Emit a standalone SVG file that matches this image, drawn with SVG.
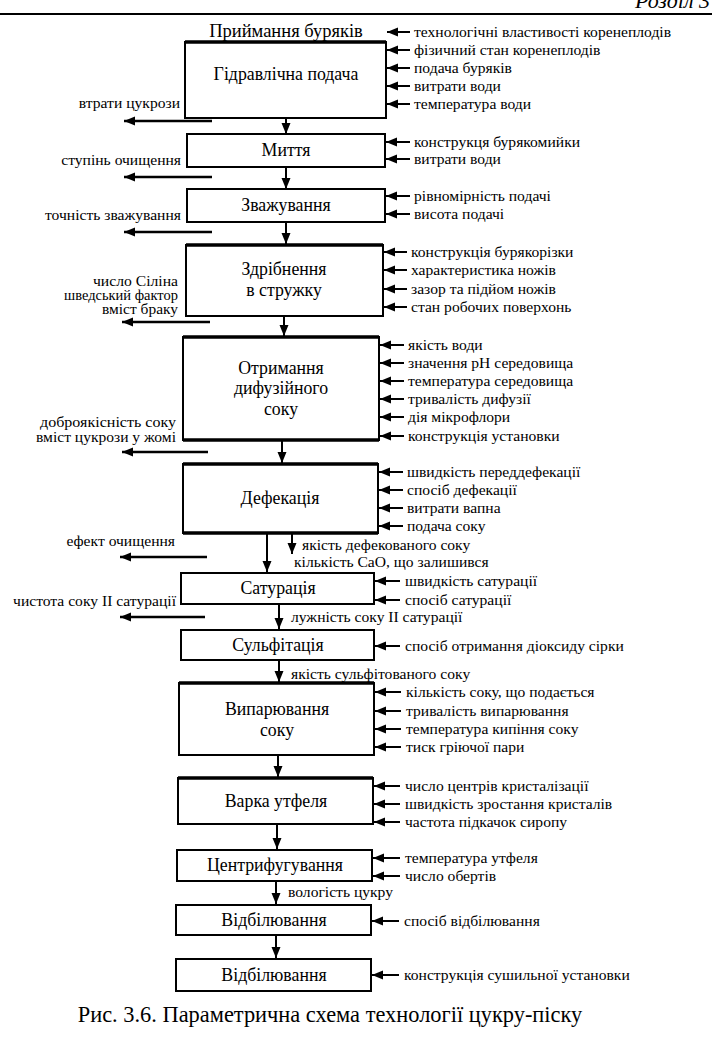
<svg xmlns="http://www.w3.org/2000/svg" width="722" height="1038" viewBox="0 0 722 1038" font-family="'Liberation Serif', 'Times New Roman', Tinos, 'DejaVu Serif', serif">
<defs>
<marker id="ah" markerUnits="userSpaceOnUse" markerWidth="12" markerHeight="10" refX="11" refY="4.5" orient="auto">
<path d="M0,0 L11,4.5 L0,9 z" fill="#000"/>
</marker>
<style>
text{font-family:'Liberation Serif','Times New Roman',Tinos,'DejaVu Serif',serif;fill:#000}
.box{fill:#fff;stroke:#000;stroke-width:2}
.thick{stroke:#000;stroke-width:3.5}
.t{font-size:17.8px}
.l{font-size:15.6px}
.s{font-size:14px}
.r{text-anchor:end}
.c{text-anchor:middle}
.a{stroke:#000;stroke-width:2;fill:none;marker-end:url(#ah)}
.o{stroke:#000;stroke-width:2.5;fill:none;marker-end:url(#ah)}
</style>
</defs>
<rect width="722" height="1038" fill="#fff"/>
<g id="header">
<line x1="0" y1="14" x2="712" y2="14" stroke="#000" stroke-width="2"/>
<text x="710" y="8" class="t r" style="font-style:italic;font-size:22px">Розділ 3</text>
</g>
<g id="n1">
<text x="286" y="37" class="t c" style="font-size:18.5px">Приймання буряків</text>
<rect class="box" x="185" y="42" width="201" height="76"/>
<line class="thick" x1="185" y1="42" x2="386" y2="42"/>
<text x="286" y="80" class="t c">Гідравлічна подача</text>
<text x="414" y="37" class="l">технологічні властивості коренеплодів</text>
<text x="414" y="55" class="l">фізичний стан коренеплодів</text>
<text x="414" y="73" class="l">подача буряків</text>
<text x="414" y="91" class="l">витрати води</text>
<text x="414" y="109" class="l">температура води</text>
<text x="180" y="108" class="l r">втрати цукрози</text>
</g>
<g id="n2">
<rect class="box" x="187" y="134" width="198" height="33"/>
<text x="286" y="156" class="t c">Миття</text>
<text x="414" y="147" class="l">конструкця бурякомийки</text>
<text x="414" y="164" class="l">витрати води</text>
<text x="181" y="165" class="l r">ступінь очищення</text>
</g>
<g id="n3">
<rect class="box" x="187" y="189" width="198" height="33"/>
<text x="286" y="211" class="t c">Зважування</text>
<text x="414" y="201" class="l">рівномірність подачі</text>
<text x="414" y="219" class="l">висота подачі</text>
<text x="181" y="220" class="l r">точність зважування</text>
</g>
<g id="n4">
<rect class="box" x="186" y="245" width="197" height="71"/>
<line class="thick" x1="186" y1="245" x2="383" y2="245"/>
<text x="284" y="275" class="t c">Здрібнення</text>
<text x="284" y="296" class="t c">в стружку</text>
<text x="411" y="257" class="l">конструкція бурякорізки</text>
<text x="411" y="275" class="l">характеристика ножів</text>
<text x="411" y="294" class="l">зазор та підйом ножів</text>
<text x="411" y="312" class="l">стан робочих поверхонь</text>
<text x="178" y="286" class="s r" textLength="85" lengthAdjust="spacingAndGlyphs">число Сіліна</text>
<text x="178" y="300" class="s r" textLength="114" lengthAdjust="spacingAndGlyphs">шведський фактор</text>
<text x="178" y="314" class="s r" textLength="76" lengthAdjust="spacingAndGlyphs">вміст браку</text>
</g>
<g id="n5">
<rect class="box" x="183" y="337" width="196" height="103"/>
<line class="thick" x1="183" y1="337" x2="379" y2="337"/>
<line class="thick" x1="183" y1="440" x2="379" y2="440"/>
<text x="281" y="374" class="t c">Отримання</text>
<text x="281" y="394" class="t c">дифузійного</text>
<text x="281" y="415" class="t c">соку</text>
<text x="408" y="350" class="l">якість води</text>
<text x="408" y="368" class="l">значення pH середовища</text>
<text x="408" y="386" class="l">температура середовища</text>
<text x="408" y="404" class="l">тривалість дифузії</text>
<text x="408" y="422" class="l">дія мікрофлори</text>
<text x="408" y="441" class="l">конструкція установки</text>
<text x="176" y="427" class="s r" textLength="136" lengthAdjust="spacingAndGlyphs">доброякісність соку</text>
<text x="176" y="442" class="s r" textLength="140" lengthAdjust="spacingAndGlyphs">вміст цукрози у жомі</text>
</g>
<g id="n6">
<rect class="box" x="183" y="464" width="195" height="69"/>
<line class="thick" x1="183" y1="464" x2="378" y2="464"/>
<line class="thick" x1="183" y1="533" x2="378" y2="533"/>
<text x="280" y="504" class="t c">Дефекація</text>
<text x="407" y="477" class="l">швидкість переддефекації</text>
<text x="407" y="495" class="l">спосіб дефекації</text>
<text x="407" y="513" class="l">витрати вапна</text>
<text x="407" y="531" class="l">подача соку</text>
<text x="175" y="546" class="l r">ефект очищення</text>
<text x="302" y="550" class="l">якість дефекованого соку</text>
<text x="294" y="567" class="l">кількість CaO, що залишився</text>
</g>
<g id="n7">
<rect class="box" x="181" y="573" width="193" height="31"/>
<text x="278" y="594" class="t c">Сатурація</text>
<text x="405" y="586" class="l">швидкість сатурації</text>
<text x="405" y="605" class="l">спосіб сатурації</text>
<text x="176" y="606" class="l r">чистота соку II сатурації</text>
<text x="291" y="622" class="l">лужність соку II сатурації</text>
</g>
<g id="n8">
<rect class="box" x="181" y="630" width="193" height="30"/>
<text x="278" y="651" class="t c">Сульфітація</text>
<text x="405" y="651" class="l">спосіб отримання діоксиду сірки</text>
<text x="291" y="679" class="l">якість сульфітованого соку</text>
</g>
<g id="n9">
<rect class="box" x="179" y="683" width="195" height="72"/>
<line class="thick" x1="179" y1="683" x2="374" y2="683"/>
<text x="277" y="715" class="t c">Випарювання</text>
<text x="277" y="736" class="t c">соку</text>
<text x="406" y="697" class="l">кількість соку, що подається</text>
<text x="406" y="716" class="l">тривалість випарювання</text>
<text x="406" y="734" class="l">температура кипіння соку</text>
<text x="406" y="752" class="l">тиск гріючої пари</text>
</g>
<g id="n10">
<rect class="box" x="178" y="778" width="195" height="46"/>
<line class="thick" x1="178" y1="778" x2="373" y2="778"/>
<text x="276" y="807" class="t c">Варка утфеля</text>
<text x="405" y="791" class="l">число центрів кристалізації</text>
<text x="405" y="809" class="l">швидкість зростання кристалів</text>
<text x="405" y="827" class="l">частота підкачок сиропу</text>
</g>
<g id="n11">
<rect class="box" x="177" y="850" width="195" height="31"/>
<text x="275" y="871" class="t c">Центрифугування</text>
<text x="405" y="863" class="l">температура утфеля</text>
<text x="405" y="881" class="l">число обертів</text>
<text x="288" y="897" class="l">вологість цукру</text>
</g>
<g id="n12">
<rect class="box" x="176" y="905" width="195" height="30"/>
<text x="274" y="926" class="t c">Відбілювання</text>
<text x="404" y="926" class="l">спосіб відбілювання</text>
</g>
<g id="n13">
<rect class="box" x="176" y="959" width="195" height="32"/>
<text x="274" y="981" class="t c">Відбілювання</text>
<text x="404" y="980" class="l">конструкція сушильної установки</text>
</g>
<g id="connectors">
<line class="a" x1="410" y1="32" x2="387" y2="32"/>
<line class="a" x1="410" y1="50" x2="387" y2="50"/>
<line class="a" x1="410" y1="68" x2="387" y2="68"/>
<line class="a" x1="410" y1="86" x2="387" y2="86"/>
<line class="a" x1="410" y1="104" x2="387" y2="104"/>
<line class="o" x1="212" y1="121" x2="124" y2="121"/>
<line class="a" x1="286" y1="118" x2="286" y2="134"/>
<line class="a" x1="410" y1="142" x2="386" y2="142"/>
<line class="a" x1="410" y1="159" x2="386" y2="159"/>
<line class="o" x1="212" y1="177" x2="124" y2="177"/>
<line class="a" x1="286" y1="167" x2="286" y2="189"/>
<line class="a" x1="410" y1="196" x2="386" y2="196"/>
<line class="a" x1="410" y1="214" x2="386" y2="214"/>
<line class="o" x1="212" y1="232" x2="124" y2="232"/>
<line class="a" x1="286" y1="222" x2="286" y2="244"/>
<line class="a" x1="407" y1="252" x2="384" y2="252"/>
<line class="a" x1="407" y1="270" x2="384" y2="270"/>
<line class="a" x1="407" y1="289" x2="384" y2="289"/>
<line class="a" x1="407" y1="307" x2="384" y2="307"/>
<line class="o" x1="210" y1="322" x2="122" y2="322"/>
<line class="a" x1="284" y1="316" x2="284" y2="336"/>
<line class="a" x1="404" y1="345" x2="380" y2="345"/>
<line class="a" x1="404" y1="363" x2="380" y2="363"/>
<line class="a" x1="404" y1="381" x2="380" y2="381"/>
<line class="a" x1="404" y1="399" x2="380" y2="399"/>
<line class="a" x1="404" y1="417" x2="380" y2="417"/>
<line class="a" x1="404" y1="436" x2="380" y2="436"/>
<line class="o" x1="208" y1="452" x2="122" y2="452"/>
<line class="a" x1="282" y1="441" x2="282" y2="463"/>
<line class="a" x1="403" y1="472" x2="379" y2="472"/>
<line class="a" x1="403" y1="490" x2="379" y2="490"/>
<line class="a" x1="403" y1="508" x2="379" y2="508"/>
<line class="a" x1="403" y1="526" x2="379" y2="526"/>
<line class="o" x1="207" y1="557" x2="120" y2="557"/>
<line class="a" x1="267" y1="534" x2="267" y2="572"/>
<line class="a" x1="292" y1="534" x2="292" y2="554"/>
<line class="a" x1="400" y1="581" x2="375" y2="581"/>
<line class="a" x1="400" y1="600" x2="375" y2="600"/>
<line class="o" x1="205" y1="617" x2="120" y2="617"/>
<line class="a" x1="279" y1="604" x2="279" y2="629"/>
<line class="a" x1="400" y1="646" x2="375" y2="646"/>
<line class="a" x1="279" y1="660" x2="279" y2="682"/>
<line class="a" x1="401" y1="692" x2="375" y2="692"/>
<line class="a" x1="401" y1="711" x2="375" y2="711"/>
<line class="a" x1="401" y1="729" x2="375" y2="729"/>
<line class="a" x1="401" y1="747" x2="375" y2="747"/>
<line class="a" x1="278" y1="755" x2="278" y2="777"/>
<line class="a" x1="400" y1="786" x2="374" y2="786"/>
<line class="a" x1="400" y1="804" x2="374" y2="804"/>
<line class="a" x1="400" y1="822" x2="374" y2="822"/>
<line class="a" x1="277" y1="824" x2="277" y2="849"/>
<line class="a" x1="400" y1="858" x2="373" y2="858"/>
<line class="a" x1="400" y1="876" x2="373" y2="876"/>
<line class="a" x1="276" y1="881" x2="276" y2="904"/>
<line class="a" x1="399" y1="921" x2="372" y2="921"/>
<line class="a" x1="276" y1="935" x2="276" y2="958"/>
<line class="a" x1="399" y1="975" x2="372" y2="975"/>
</g>
<g id="caption">
<text x="330" y="1022" class="t c" style="font-size:22.4px">Рис. 3.6. Параметрична схема технології цукру-піску</text>
</g>
</svg>
